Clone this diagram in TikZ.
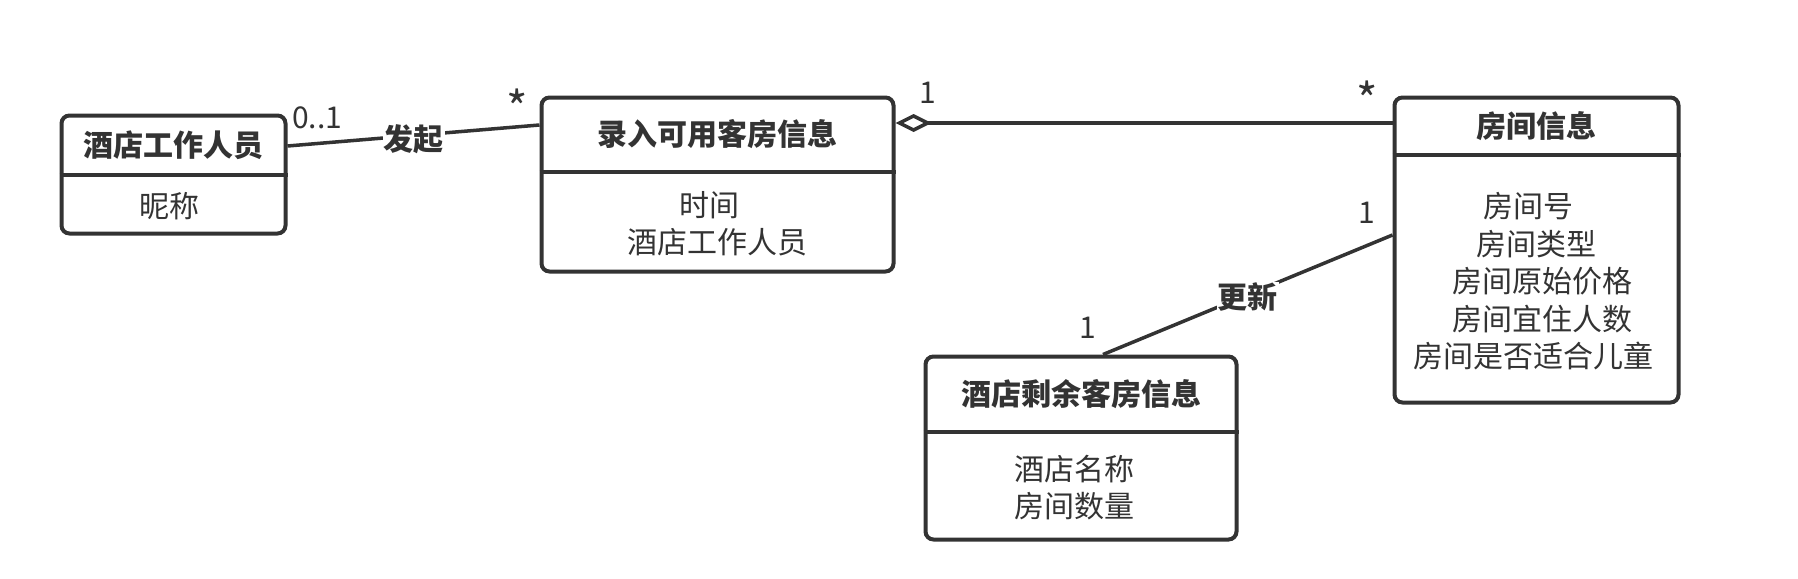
\documentclass[tikz,border=0pt]{standalone}
\usepackage{fontspec}
\setmainfont{Noto Sans CJK SC}
\usetikzlibrary{arrows.meta}
\definecolor{ink}{HTML}{333333}
\begin{document}
\begin{tikzpicture}[x=1pt,y=-1pt,
  box/.style={draw=ink, line width=4pt, rounded corners=8pt, inner sep=0pt},
  ttl/.style={font=\fontsize{30}{36}\selectfont\bfseries, text=ink, inner sep=0pt},
  att/.style={font=\fontsize{30}{37.5}\selectfont, text=ink, align=center, inner sep=0pt},
  conn/.style={draw=ink, line width=3.5pt},
  divl/.style={draw=ink, line width=4pt},
  mult/.style={font=\fontsize{30}{36}\selectfont, text=ink, inner sep=0pt},
  star/.style={font=\fontsize{46}{50}\selectfont, text=ink, inner sep=0pt},
  lbl/.style={font=\fontsize{30}{36}\selectfont\bfseries, text=ink, fill=white, inner sep=1pt}]
\useasboundingbox[fill=white] (0,0) rectangle (1798,578);

% class boxes
\node[box, minimum width=224pt, minimum height=118pt] (A) at (173.5,174.5) {};
\draw[divl] (A.west) -- (A.east);
\node[ttl] (At) at (173.5,145) {酒店工作人员};
\node[att] (Aa) at (169,206) {昵称};

\node[box, minimum width=352pt, minimum height=174pt] (B) at (717.5,184.5) {};
\draw[divl] ([yshift=12.5pt]B.west) -- ([yshift=12.5pt]B.east);
\node[ttl] (Bt) at (717.5,134) {录入可用客房信息};
\node[att] (Ba) at (717.5,223.5) {时间\hspace*{16pt}\\酒店工作人员};

\node[box, minimum width=284pt, minimum height=305pt] (C) at (1536.5,250) {};
\draw[divl] ([yshift=95pt]C.west) -- ([yshift=95pt]C.east);
\node[ttl] (Ct) at (1536.5,126) {房间信息};
\node[att] (Ca) at (1536.5,281.5) {房间号\hspace*{16pt}\\房间类型\hspace*{6pt}\\\hspace*{12pt}房间原始价格\\\hspace*{12pt}房间宜住人数\\房间是否适合儿童\hspace*{6pt}};

\node[box, minimum width=311pt, minimum height=183pt] (D) at (1081,448) {};
\draw[divl] ([yshift=16pt]D.west) -- ([yshift=16pt]D.east);
\node[ttl] (Dt) at (1081,394) {酒店剩余客房信息};
\node[att] (Da) at (1074,487.5) {酒店名称\\房间数量};

% connectors
\draw[conn] ([yshift=28.5pt]A.east) -- node[lbl, yshift=-3.5pt] (l1) {发起} ([yshift=59.5pt]B.west);
\draw[conn, {Diamond[open, length=36pt, width=18pt]}-] ([yshift=61.5pt]B.east) -- ([yshift=127pt]C.west);
\draw[conn] ([yshift=15pt]C.west) -- node[lbl, yshift=-2.5pt] (l2) {更新} ([xshift=22pt]D.north);

% multiplicities
\node[mult] (m1) at (317,118) {0..1};
\node[star] (m2) at (517,107) {*};
\node[mult] (m3) at (928,93) {1};
\node[star] (m4) at (1367,99) {*};
\node[mult] (m5) at (1367,213) {1};
\node[mult] (m6) at (1088,328) {1};
\end{tikzpicture}
\end{document}
